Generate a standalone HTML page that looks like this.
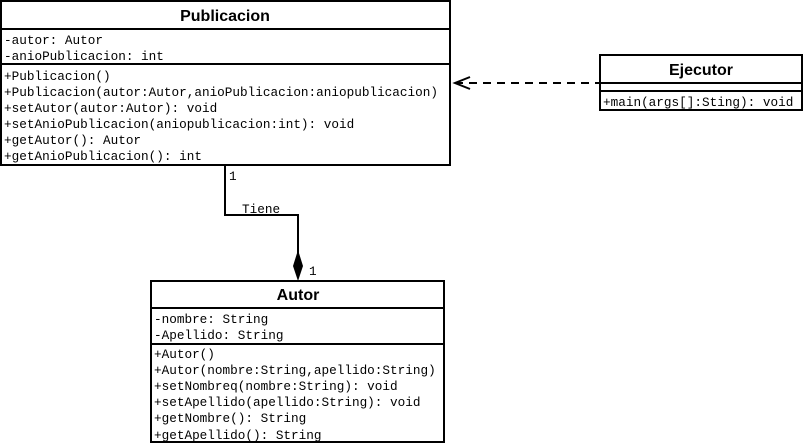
<!DOCTYPE html>
<html><head><meta charset="utf-8"><style>
html,body{margin:0;padding:0;background:#fff;}
svg{display:block;}
.t{font-family:"Liberation Sans",sans-serif;font-weight:bold;font-size:16px;text-anchor:middle;}
.m{font-family:"Liberation Mono",monospace;font-size:12.7px;}
</style></head><body>
<svg width="805" height="446" viewBox="0 0 805 446" xmlns="http://www.w3.org/2000/svg">
<g fill="none" stroke="#000" stroke-width="2">
<rect x="1" y="1" width="449" height="164"/>
<line x1="1" y1="29" x2="450" y2="29"/>
<line x1="1" y1="64" x2="450" y2="64"/>
<rect x="151" y="281" width="293" height="161"/>
<line x1="151" y1="308" x2="444" y2="308"/>
<line x1="151" y1="344" x2="444" y2="344"/>
<rect x="600" y="55" width="202" height="55"/>
<line x1="600" y1="83" x2="802" y2="83"/>
<line x1="600" y1="91" x2="802" y2="91"/>
<polyline points="225,166 225,215 298,215 298,256"/>
<line x1="455" y1="83" x2="600" y2="83" stroke-dasharray="8,6"/>
<polyline points="470,77 455,83 470,89"/>
</g>
<polygon points="298,250 303,266 298,281 293,266" fill="#000"/>
<text class="t" x="225" y="21">Publicacion</text>
<text class="t" x="298" y="300">Autor</text>
<text class="t" x="701" y="75">Ejecutor</text>
<g class="m">
<text x="4" y="44">-autor: Autor</text>
<text x="4" y="60">-anioPublicacion: int</text>
<text x="4" y="80">+Publicacion()</text>
<text x="4" y="96">+Publicacion(autor:Autor,anioPublicacion:aniopublicacion)</text>
<text x="4" y="112">+setAutor(autor:Autor): void</text>
<text x="4" y="128">+setAnioPublicacion(aniopublicacion:int): void</text>
<text x="4" y="144">+getAutor(): Autor</text>
<text x="4" y="160">+getAnioPublicacion(): int</text>
<text x="154" y="323">-nombre: String</text>
<text x="154" y="339">-Apellido: String</text>
<text x="154" y="358">+Autor()</text>
<text x="154" y="374">+Autor(nombre:String,apellido:String)</text>
<text x="154" y="390">+setNombreq(nombre:String): void</text>
<text x="154" y="406">+setApellido(apellido:String): void</text>
<text x="154" y="422">+getNombre(): String</text>
<text x="154" y="439">+getApellido(): String</text>
<text x="603" y="106">+main(args[]:Sting): void</text>
<text x="229" y="180">1</text>
<text x="242" y="213">Tiene</text>
<text x="309" y="275">1</text>
</g>
</svg>
</body></html>
